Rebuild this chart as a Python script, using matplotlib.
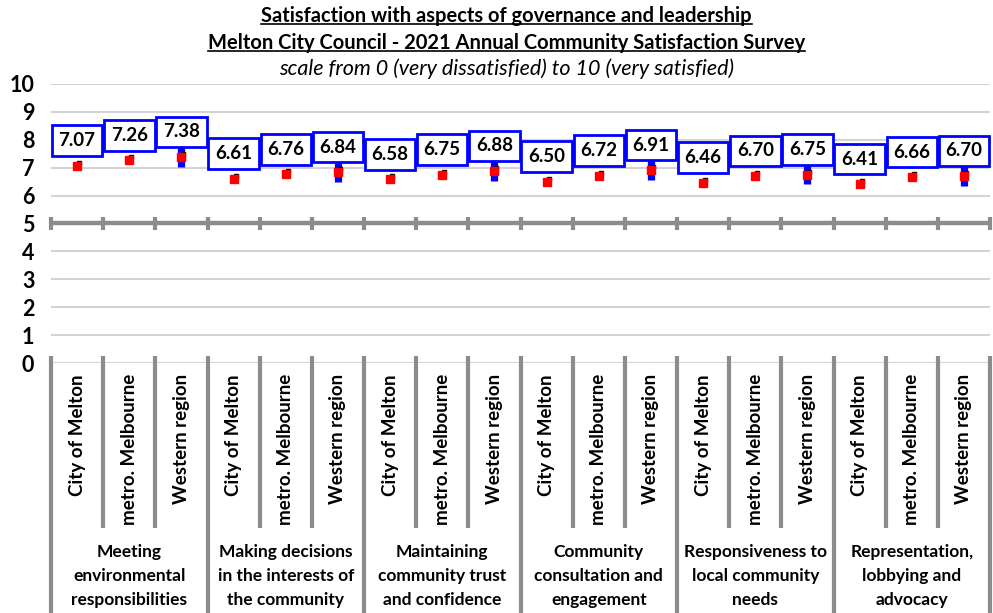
import numpy as np
import matplotlib
matplotlib.use("Agg")
import matplotlib.pyplot as plt
from matplotlib.lines import Line2D
import matplotlib.transforms as mtransforms

plt.rcParams["font.family"] = ["Lato", "DejaVu Sans"]

groups = [
    "Meeting\nenvironmental\nresponsibilities",
    "Making decisions\nin the interests of\nthe community",
    "Maintaining\ncommunity trust\nand confidence",
    "Community\nconsultation and\nengagement",
    "Responsiveness to\nlocal community\nneeds",
    "Representation,\nlobbying and\nadvocacy",
]
areas = ["City of Melton", "metro. Melbourne", "Western region"]

scores = [7.07, 7.26, 7.38,
          6.61, 6.76, 6.84,
          6.58, 6.75, 6.88,
          6.50, 6.72, 6.91,
          6.46, 6.70, 6.75,
          6.41, 6.66, 6.70]
# half-width of the 95% confidence interval
ci_half = [0.14, 0.10, 0.35,
           0.14, 0.10, 0.35,
           0.14, 0.10, 0.35,
           0.14, 0.10, 0.35,
           0.14, 0.10, 0.35,
           0.14, 0.10, 0.35]

GRAY = "#8c8c8c"
GRID = "#d4d4d4"
BLUE = "#0000ff"
RED = "#ff0000"

fig = plt.figure(figsize=(9.93, 6.13), dpi=100)
ax = fig.add_axes([51 / 993, 250 / 613, 939 / 993, 279 / 613])

n = len(scores)
x = np.arange(n)
ax.set_xlim(-0.5, n - 0.5)
ax.set_ylim(0, 10)

for v in [0, 1, 2, 3, 4, 6, 7, 8, 9, 10]:
    ax.axhline(v, color=GRID, lw=1.5, zorder=0)
ax.axhline(5, color=GRAY, lw=3.2, zorder=1)

# tick marks on the 5 line
bounds = np.arange(n + 1) - 0.5
for b in bounds:
    ax.plot([b, b], [4.78, 5.22], color=GRAY, lw=3, solid_capstyle="butt",
            zorder=1, clip_on=False)

ax.errorbar(x, scores, yerr=ci_half, fmt="none", ecolor=BLUE, elinewidth=5.2,
            capsize=0, zorder=3)
# small dark shadow tip at the top-right of each marker
shadow = mtransforms.offset_copy(ax.transData, fig=fig, x=2, y=3, units="dots")
ax.plot(x, scores, "s", color="black", ms=3, mec="black", zorder=3.5,
        transform=shadow)
ax.plot(x, scores, "s", color=RED, ms=6.2, mec=RED, zorder=4)

for xi, s in zip(x, scores):
    ax.text(xi, s + 0.9, f"{s:.2f}", ha="center", va="center", fontsize=13.5,
            fontweight="bold", color="black", zorder=5,
            bbox=dict(boxstyle="square,pad=0.36", fc="white", ec=BLUE, lw=2))

ax.set_yticks(range(0, 11))
ax.set_yticklabels([str(v) for v in range(0, 11)], fontsize=15.5, fontweight="bold")
ax.tick_params(axis="y", length=0, pad=12)
ax.set_xticks([])
for sp in ax.spines.values():
    sp.set_visible(False)

# category separators below the axis
blend = mtransforms.blended_transform_factory(ax.transData, fig.transFigure)
for i, b in enumerate(bounds):
    y_end = 0.0 if i % 3 == 0 else (613 - 528) / 613
    ax.add_line(Line2D([b, b], [(613 - 356) / 613, y_end], transform=blend,
                       color=GRAY, lw=3, clip_on=False, solid_capstyle="butt"))

for i, xi in enumerate(x):
    ax.text(xi, (613 - 374) / 613, areas[i % 3], transform=blend, rotation=90,
            ha="center", va="top", fontsize=13.5, fontweight="bold")

for g, name in enumerate(groups):
    ax.text(3 * g + 1, (613 - 544) / 613, name, transform=blend, ha="center",
            va="top", fontsize=12.5, fontweight="bold", linespacing=1.62)

# titles
t1 = fig.text(0.51, 1 - 16 / 613, "Satisfaction with aspects of governance and leadership",
              ha="center", va="center", fontsize=14.5, fontweight="bold")
t2 = fig.text(0.51, 1 - 43 / 613, "Melton City Council - 2021 Annual Community Satisfaction Survey",
              ha="center", va="center", fontsize=14.5, fontweight="bold")
fig.text(0.51, 1 - 69 / 613, "scale from 0 (very dissatisfied) to 10 (very satisfied)",
         ha="center", va="center", fontsize=15.5, fontstyle="italic")

fig.canvas.draw()
renderer = fig.canvas.get_renderer()
for t in (t1, t2):
    bb = t.get_window_extent(renderer).transformed(fig.transFigure.inverted())
    fig.add_artist(Line2D([bb.x0, bb.x1], [bb.y0 + 2 / 613] * 2, color="black",
                          lw=1.2, transform=fig.transFigure))

fig.savefig("out.png", dpi=100)
